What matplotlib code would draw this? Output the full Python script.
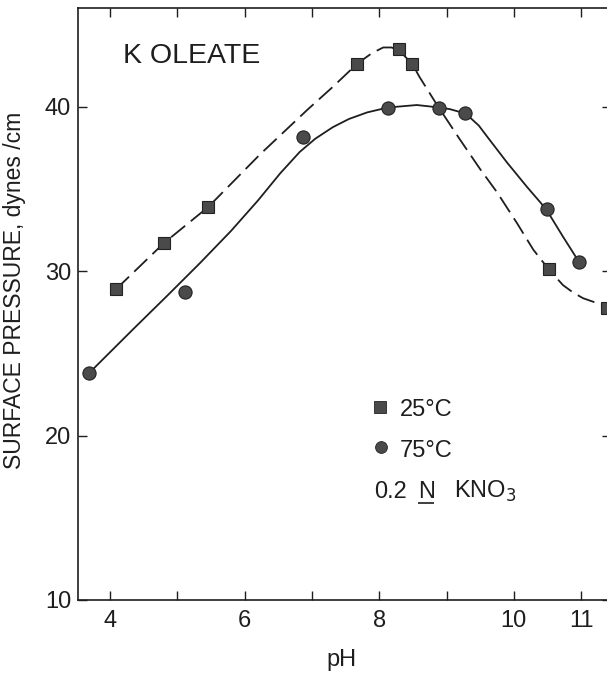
"""
K oleate surface pressure vs pH at 25 and 75 C (0.2 N KNO3).
Output: out.png
"""
import matplotlib
matplotlib.use("Agg")
import matplotlib.pyplot as plt

plt.rcParams["font.family"] = ["Liberation Sans", "DejaVu Sans"]

ph_25 = [4.09, 4.80, 5.46, 7.67, 8.29, 8.49, 10.52, 11.38]
sp_25 = [28.9, 31.7, 33.9, 42.6, 43.5, 42.6, 30.1, 27.75]
ph_75 = [3.69, 5.11, 6.87, 8.13, 8.89, 9.27, 10.49, 10.97]
sp_75 = [23.8, 28.7, 38.15, 39.9, 39.9, 39.6, 33.8, 30.55]

# hand-drawn guide curves
curve_ph_25 = [4.09, 4.80, 5.46, 6.23, 6.93, 7.31, 7.67, 7.89, 8.06, 8.18, 8.29,
               8.49, 8.60, 8.86, 9.20, 9.50, 9.75, 10.05, 10.29, 10.52, 10.73,
               10.88, 11.03, 11.24, 11.45]
curve_sp_25 = [28.9, 31.7, 33.9, 37.1, 39.8, 41.2, 42.6, 43.25, 43.6, 43.6, 43.45,
               42.6, 41.8, 40.1, 38.0, 36.2, 34.8, 32.9, 31.3, 30.1, 29.15,
               28.7, 28.35, 28.05, 27.7]
curve_ph_75 = [3.69, 4.34, 4.85, 5.34, 5.80, 6.20, 6.53, 6.82, 7.05, 7.31, 7.55,
               7.82, 8.13, 8.56, 8.89, 9.05, 9.18, 9.27, 9.36, 9.48, 9.60, 9.75,
               9.90, 10.20, 10.39, 10.49, 10.73, 10.97]
curve_sp_75 = [23.8, 26.45, 28.5, 30.5, 32.45, 34.3, 35.95, 37.25, 38.05, 38.75, 39.25,
               39.65, 39.95, 40.1, 39.95, 39.85, 39.7, 39.55, 39.3, 38.85, 38.2, 37.4,
               36.6, 35.1, 34.2, 33.7, 32.1, 30.55]

xticks = [4, 5, 6, 7, 8, 9, 10, 11]
xticklabels = ["4", "", "6", "", "8", "", "10", "11"]
yticks = [10, 20, 30, 40]

INK = "#1e1e1e"
MARK_FACE = "#4a4a4a"

fig = plt.figure(figsize=(6.07, 6.73), dpi=100)
# right spine sits just past the edge of the scan
ax = fig.add_axes([78 / 607, 1 - 600 / 673, 533 / 607, 592 / 673])

ax.plot(curve_ph_25, curve_sp_25, color=INK, lw=1.3, dashes=(10, 4))
ax.plot(curve_ph_75, curve_sp_75, color=INK, lw=1.3)
ax.plot(ph_25, sp_25, "s", ms=9, mfc=MARK_FACE, mec="#222222", mew=0.8)
ax.plot(ph_75, sp_75, "o", ms=9.5, mfc=MARK_FACE, mec="#222222", mew=0.8)

ax.set_xlim(3.525, 11.444)
ax.set_ylim(10, 46.0)
ax.set_xticks(xticks)
ax.set_xticklabels(xticklabels)
ax.set_yticks(yticks)
ax.tick_params(direction="in", length=6.5, width=1.0, color=INK,
               top=True, right=True, labelsize=17, labelcolor=INK)
ax.tick_params(axis="x", pad=7)
ax.tick_params(axis="y", pad=5)
for sp in ax.spines.values():
    sp.set_linewidth(1.2)
    sp.set_color(INK)

# labels (placed in figure px to match the scan)
fig.text(341 / 607, 1 - 666 / 673, "pH", ha="center", va="baseline",
         fontsize=17, color=INK)
fig.text(15 / 607, 1 - 290 / 673, "SURFACE PRESSURE, dynes /cm", rotation=90,
         ha="center", va="center", fontsize=16.5, color=INK)
ax.text(0.085, 0.907, "K OLEATE", transform=ax.transAxes, fontsize=20.5,
        color=INK, va="baseline")

# key
ax.plot([0.567], [0.326], "s", ms=8, mfc=MARK_FACE, mec="#222222", mew=0.6,
        transform=ax.transAxes)
ax.plot([0.569], [0.258], "o", ms=8.5, mfc=MARK_FACE, mec="#222222", mew=0.6,
        transform=ax.transAxes)
ax.text(0.603, 0.311, "25°C", transform=ax.transAxes, fontsize=17, color=INK,
        va="baseline")
ax.text(0.603, 0.242, "75°C", transform=ax.transAxes, fontsize=17, color=INK,
        va="baseline")
ax.text(0.555, 0.172, "0.2", transform=ax.transAxes, fontsize=17, color=INK,
        va="baseline")
ax.text(0.639, 0.172, "N", transform=ax.transAxes, fontsize=17, color=INK,
        va="baseline")
ax.plot([0.637, 0.667], [0.164, 0.164], color=INK, lw=1.2,
        transform=ax.transAxes, solid_capstyle="butt")
ax.text(0.705, 0.172, "KNO$_3$", transform=ax.transAxes, fontsize=17,
        color=INK, va="baseline")

fig.savefig("out.png", dpi=100, facecolor="white")
